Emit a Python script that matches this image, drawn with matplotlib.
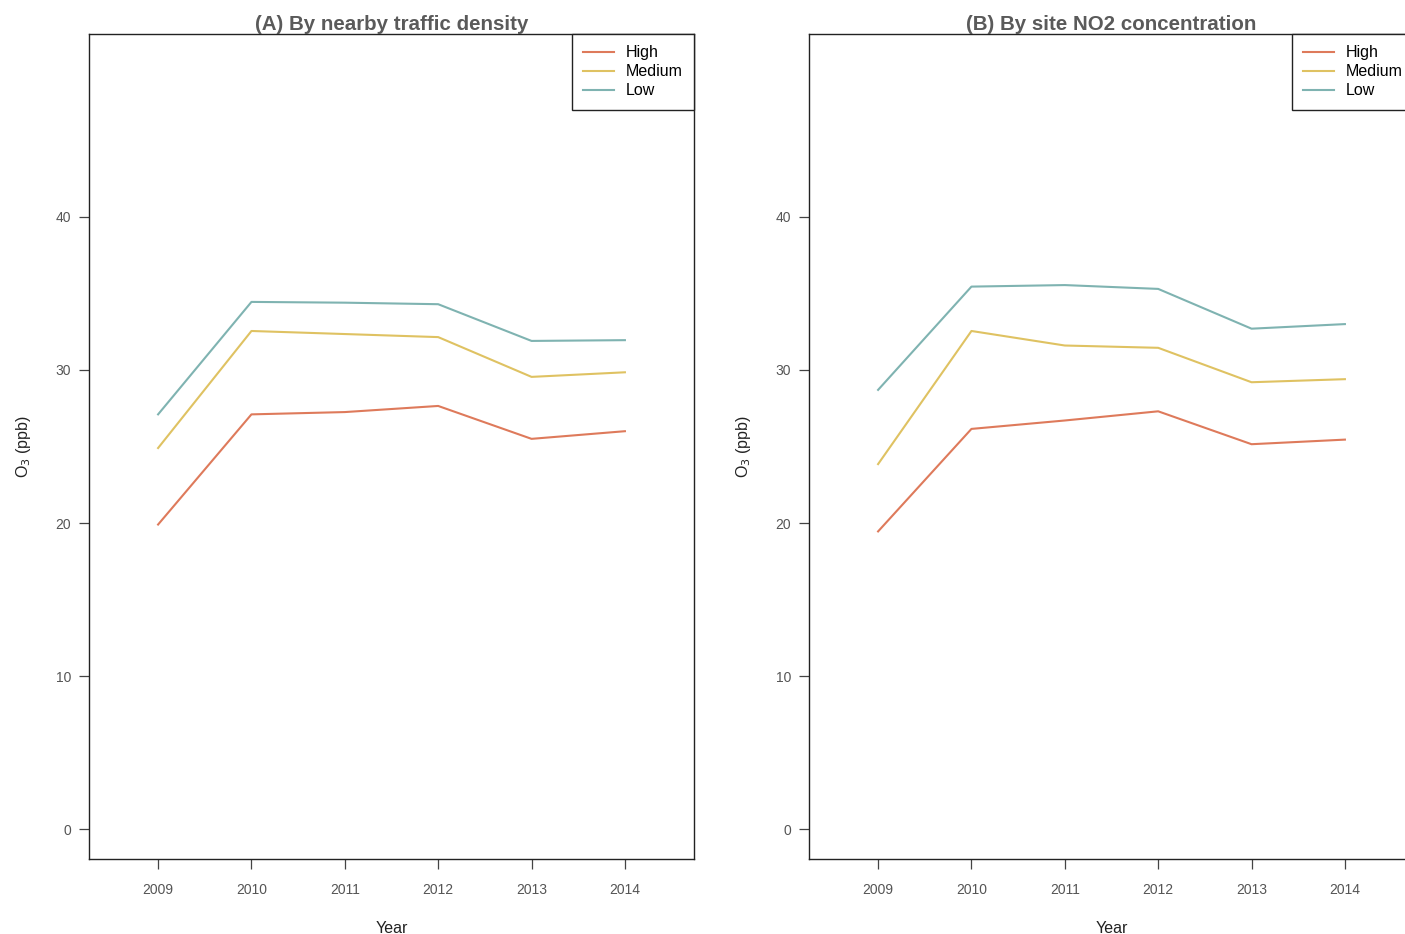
import numpy as np
import matplotlib
matplotlib.use("Agg")
import matplotlib.pyplot as plt

plt.rcParams['font.family'] = ['Liberation Sans', 'DejaVu Sans']

years = [2009, 2010, 2011, 2012, 2013, 2014]
groups = ["High", "Medium", "Low"]
colors = ["#DE7A5B", "#DFC262", "#7FB3B1"]

# panel A: by nearby traffic density
traffic_high = [19.9, 27.1, 27.25, 27.65, 25.5, 26.0]
traffic_medium = [24.9, 32.55, 32.35, 32.15, 29.55, 29.85]
traffic_low = [27.1, 34.45, 34.4, 34.3, 31.9, 31.95]

# panel B: by site NO2 concentration
no2_high = [19.45, 26.15, 26.7, 27.3, 25.15, 25.45]
no2_medium = [23.85, 32.55, 31.6, 31.45, 29.2, 29.4]
no2_low = [28.7, 35.45, 35.55, 35.3, 32.7, 33.0]

panels = [
    ("(A) By nearby traffic density", [traffic_high, traffic_medium, traffic_low]),
    ("(B) By site NO2 concentration", [no2_high, no2_medium, no2_low]),
]

fig = plt.figure(figsize=(14.05, 9.34), dpi=100)
W, H = 1405, 934
lefts = [89, 809]
for (title, series), left in zip(panels, lefts):
    ax = fig.add_axes([left / W, (934 - 859) / H, 605 / W, 825 / H])
    for vals, c, g in zip(series, colors, groups):
        ax.plot(years, vals, color=c, lw=1.5, label=g)
    ax.set_xlim(2008.26, 2014.74)
    ax.set_ylim(-1.96, 51.96)
    ax.set_xticks(years)
    ax.set_yticks([0, 10, 20, 30, 40])
    ax.tick_params(direction='out', length=7, width=0.9, color='#444444',
                   labelsize=10, labelcolor='#555555')
    ax.tick_params(axis='x', pad=10)
    ax.tick_params(axis='y', pad=6)
    for s in ax.spines.values():
        s.set_color('#222222')
        s.set_linewidth(1.0)
    ax.set_xlabel("Year", fontsize=11.5, color='#222222', labelpad=17.5)
    ax.set_ylabel("O$_3$ (ppb)", fontsize=11.5, color='#222222', labelpad=16)
    ax.set_title(title, fontsize=14.8, fontweight='bold', color='#5a5a5a', pad=2)
    leg = ax.legend(loc='upper right', borderaxespad=0, fancybox=False,
                    edgecolor='#222222', fontsize=11.5, handlelength=1.9,
                    handletextpad=0.75, labelspacing=0.25, borderpad=0.72)
    leg.get_frame().set_linewidth(1.0)
    leg.get_frame().set_alpha(1)

fig.savefig("out.png", dpi=100)
